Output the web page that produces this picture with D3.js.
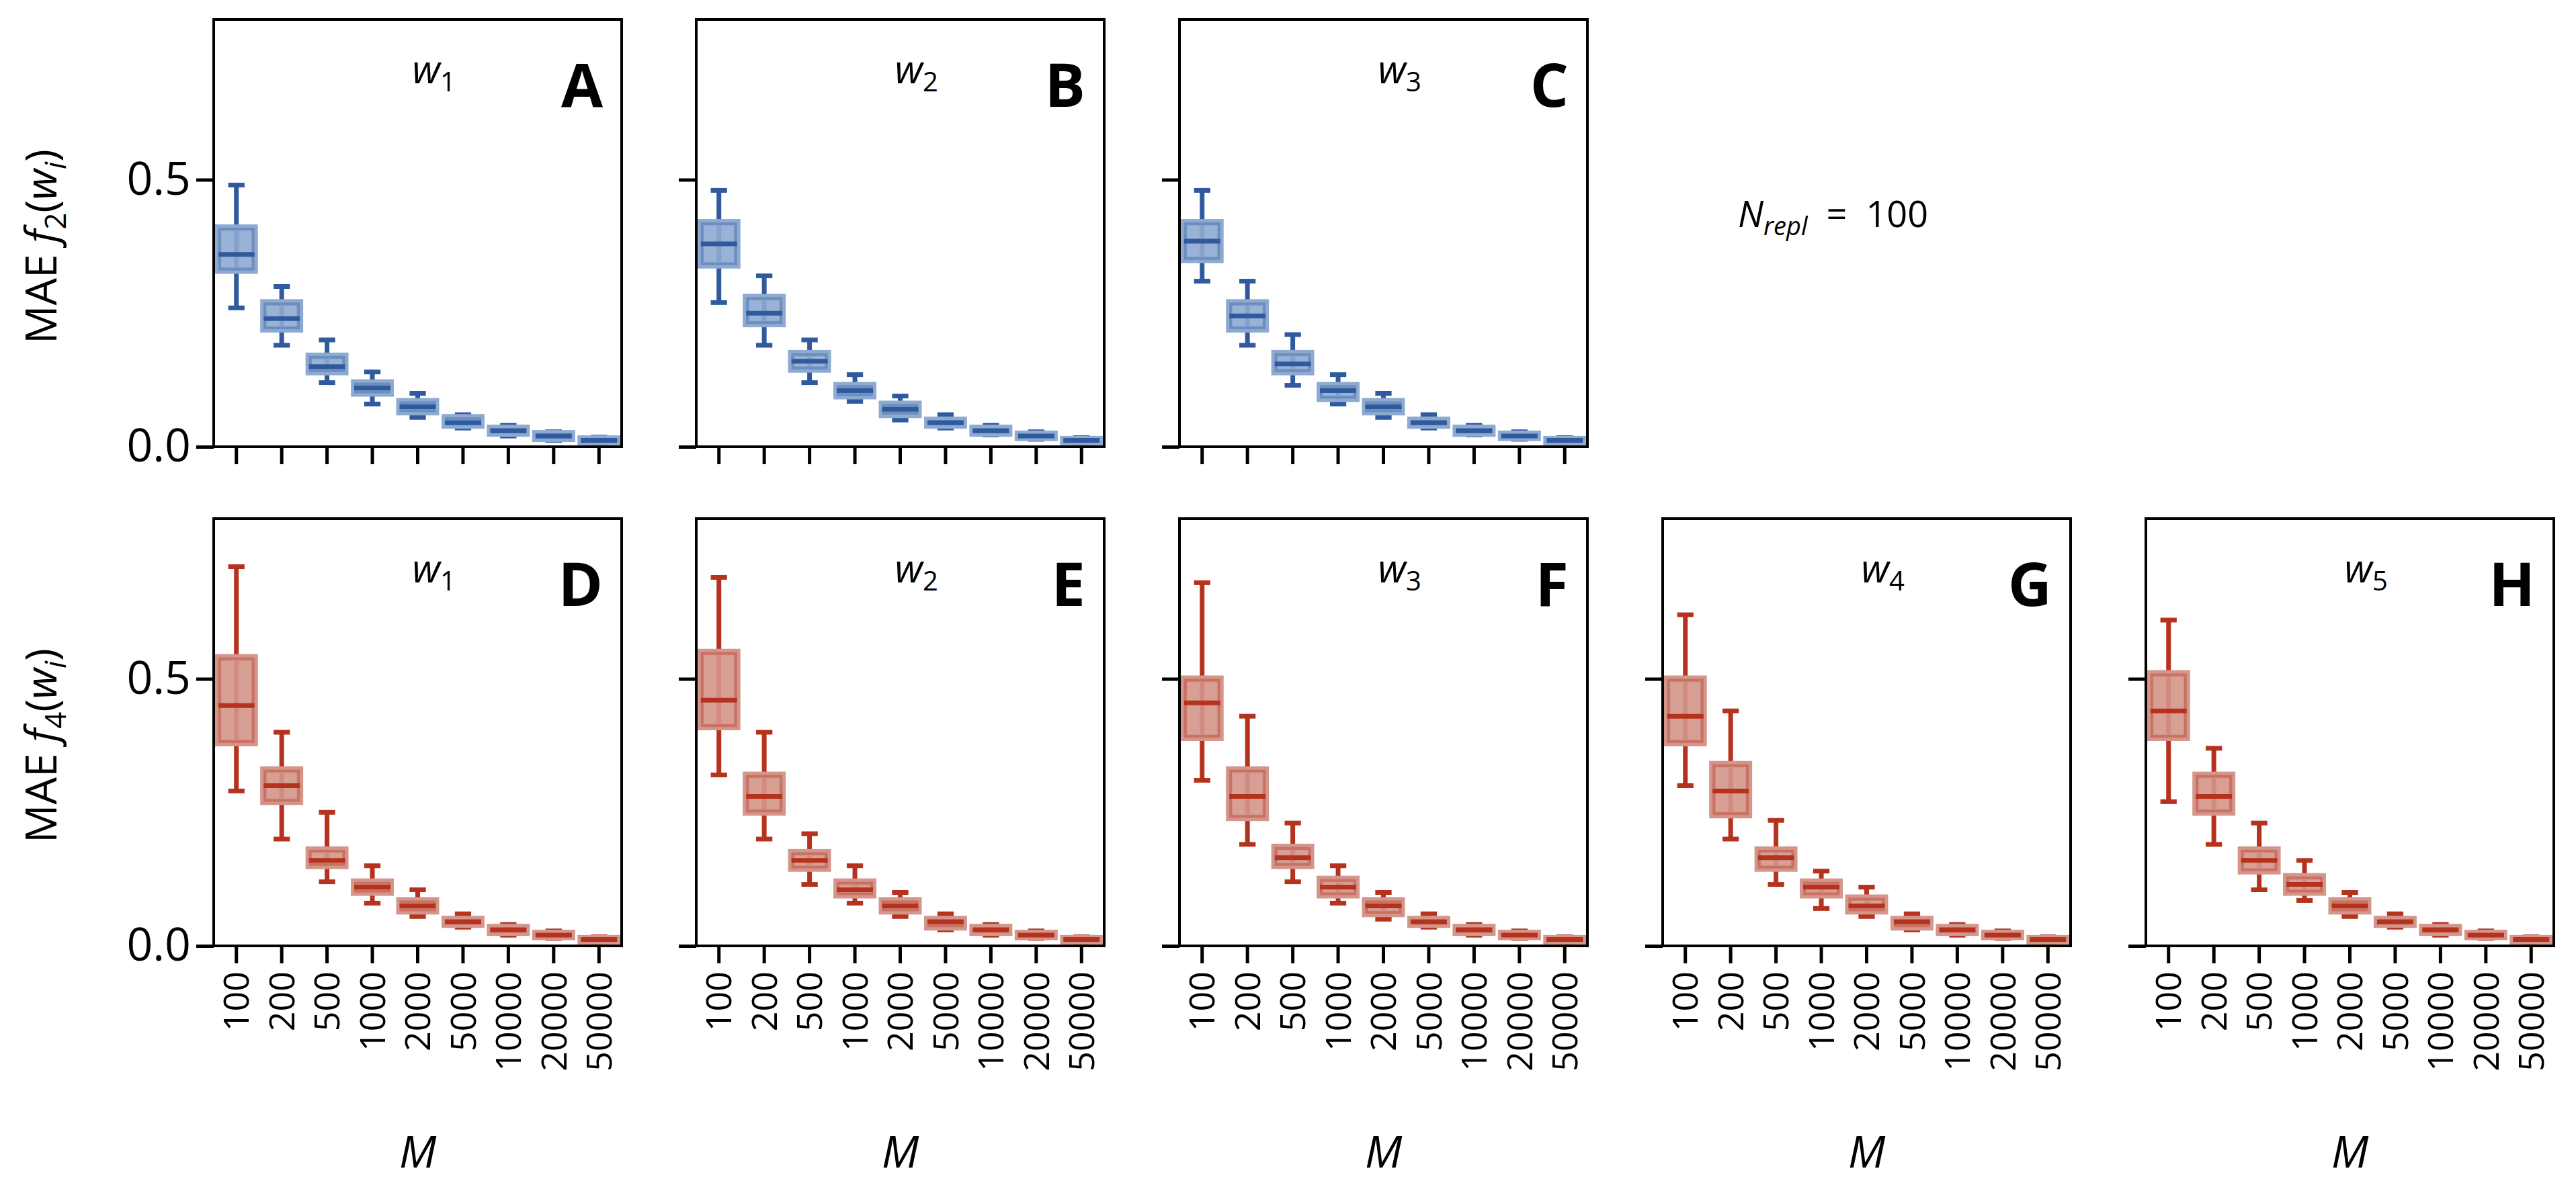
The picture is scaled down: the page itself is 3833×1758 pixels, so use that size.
<!DOCTYPE html>
<html><head><meta charset="utf-8">
<script src="https://cdn.jsdelivr.net/npm/d3@7"></script>
<style>body{margin:0;background:#fff}text{font-family:"Open Sans","Noto Sans",sans-serif}</style>
</head><body><svg id="chart" width="3833" height="1758"></svg>
<script>
// categories and tick labels
var sizes = ["100", "200", "500", "1000", "2000", "5000", "10000", "20000", "50000"];
var yTicks = [0.0, 0.5];
var letters = ["A", "B", "C", "D", "E", "F", "G", "H"];
var weights = ["1", "2", "3", "1", "2", "3", "4", "5"];
var rows = [0, 0, 0, 1, 1, 1, 1, 1];
var cols = [0, 1, 2, 0, 1, 2, 3, 4];

// [median, q1, q3, whisker low, whisker high] per M for each panel
var boxA = [[.36,.33,.41,.26,.49],[.24,.22,.27,.19,.30],[.15,.14,.17,.12,.20],[.11,.10,.12,.08,.14],[.075,.065,.085,.055,.10],[.045,.04,.055,.035,.06],[.03,.025,.035,.02,.04],[.02,.015,.025,.012,.028],[.012,.009,.015,.007,.018]];
var boxB = [[.38,.34,.42,.27,.48],[.25,.23,.28,.19,.32],[.16,.145,.175,.12,.20],[.105,.095,.115,.085,.135],[.07,.06,.08,.05,.095],[.045,.04,.05,.035,.06],[.03,.025,.035,.022,.04],[.02,.017,.024,.014,.028],[.012,.009,.014,.007,.017]];
var boxC = [[.385,.35,.42,.31,.48],[.245,.22,.27,.19,.31],[.155,.14,.175,.115,.21],[.105,.09,.115,.08,.135],[.075,.065,.085,.055,.10],[.045,.04,.05,.035,.06],[.03,.025,.035,.022,.04],[.02,.017,.024,.014,.028],[.012,.009,.014,.007,.017]];
var boxD = [[.45,.38,.54,.29,.71],[.30,.27,.33,.20,.40],[.16,.15,.18,.12,.25],[.11,.10,.12,.08,.15],[.075,.065,.085,.055,.105],[.045,.04,.05,.035,.06],[.03,.025,.035,.02,.04],[.02,.017,.024,.014,.028],[.012,.009,.014,.007,.017]];
var boxE = [[.46,.41,.55,.32,.69],[.28,.25,.32,.20,.40],[.16,.145,.175,.115,.21],[.105,.095,.12,.08,.15],[.075,.065,.085,.055,.10],[.045,.035,.05,.03,.06],[.03,.025,.035,.02,.04],[.02,.017,.024,.014,.028],[.012,.009,.014,.007,.017]];
var boxF = [[.455,.39,.50,.31,.68],[.28,.24,.33,.19,.43],[.165,.15,.185,.12,.23],[.11,.095,.125,.08,.15],[.075,.06,.085,.05,.10],[.045,.04,.05,.035,.06],[.03,.025,.035,.02,.04],[.02,.017,.024,.014,.028],[.012,.009,.014,.007,.017]];
var boxG = [[.43,.38,.50,.30,.62],[.29,.245,.34,.20,.44],[.165,.145,.18,.115,.235],[.11,.095,.12,.07,.14],[.075,.065,.09,.055,.11],[.045,.035,.05,.03,.06],[.03,.025,.035,.02,.04],[.02,.017,.024,.014,.028],[.012,.009,.014,.007,.017]];
var boxH = [[.44,.39,.51,.27,.61],[.28,.25,.32,.19,.37],[.16,.14,.18,.105,.23],[.115,.10,.13,.085,.16],[.075,.065,.085,.055,.10],[.045,.04,.05,.035,.06],[.03,.025,.035,.02,.04],[.02,.017,.024,.014,.028],[.012,.009,.014,.007,.017]];
var panels = [boxA, boxB, boxC, boxD, boxE, boxF, boxG, boxH];

var colX = [318, 1036, 1755, 2474, 3193],
    rowY = [29, 772],
    pw = 607, ph = 636;
var dark = ["#2f5b9e", "#b5321e"], light = ["#8eaad0", "#d4958a"];

var svg = d3.select("#chart");
var x = d3.scaleBand().domain(sizes).range([0, pw]).paddingInner(0.2).paddingOuter(0.1);
var y = d3.scaleLinear().domain([0, 0.8]).range([ph, 0]);

panels.forEach(function(data, p) {
  var r = rows[p], c = cols[p];
  var g = svg.append("g").attr("transform", "translate(" + colX[c] + "," + rowY[r] + ")");
  var bw = x.bandwidth(), cap = bw * 0.45;

  var xa = g.append("g").attr("transform", "translate(0," + ph + ")")
    .call(d3.axisBottom(x).tickSize(26).tickSizeOuter(0).tickFormat(r === 1 ? null : ""));
  xa.selectAll("line").attr("stroke-width", 5);
  xa.select(".domain").remove();
  if (r === 1) {
    xa.selectAll("text").attr("font-size", 52).attr("transform", "rotate(-90)")
      .attr("text-anchor", "end").attr("x", -38).attr("y", 0).attr("dy", "0.36em");
    g.append("text").attr("x", pw / 2).attr("y", ph + 330).attr("text-anchor", "middle")
      .attr("font-size", 66).attr("font-style", "italic").text("M");
  }
  var ya = g.append("g").call(d3.axisLeft(y).tickValues(yTicks).tickSize(26).tickSizeOuter(0)
    .tickFormat(c === 0 ? d3.format(".1f") : ""));
  ya.selectAll("line").attr("stroke-width", 5);
  ya.selectAll("text").attr("font-size", 68).attr("x", -34);
  ya.select(".domain").remove();

  var b = g.selectAll(".box").data(data).enter().append("g")
    .attr("transform", function(d, i) { return "translate(" + (x(sizes[i]) + bw / 2) + ",0)"; });
  b.append("line").attr("y1", function(d) { return y(d[3]); }).attr("y2", function(d) { return y(d[4]); })
    .attr("stroke", dark[r]).attr("stroke-width", 7);
  [3, 4].forEach(function(k) {
    b.append("line").attr("x1", -cap / 2).attr("x2", cap / 2)
      .attr("y1", function(d) { return y(d[k]); }).attr("y2", function(d) { return y(d[k]); })
      .attr("stroke", dark[r]).attr("stroke-width", 7);
  });
  b.append("rect").attr("x", -bw / 2).attr("width", bw)
    .attr("y", function(d) { return y(d[2]); })
    .attr("height", function(d) { return Math.max(y(d[1]) - y(d[2]), 4); })
    .attr("fill", light[r]).attr("fill-opacity", 0.9)
    .attr("stroke", light[r]).attr("stroke-width", 10);
  b.append("rect").attr("x", -bw / 2 + 2).attr("width", bw - 4)
    .attr("y", function(d) { return y(d[2]) + 2; })
    .attr("height", function(d) { return Math.max(y(d[1]) - y(d[2]) - 4, 1); })
    .attr("fill", "none").attr("stroke", dark[r]).attr("stroke-opacity", 0.35).attr("stroke-width", 4);
  b.append("line").attr("x1", -bw / 2).attr("x2", bw / 2)
    .attr("y1", function(d) { return y(d[0]); }).attr("y2", function(d) { return y(d[0]); })
    .attr("stroke", dark[r]).attr("stroke-width", 7);

  g.append("rect").attr("width", pw).attr("height", ph).attr("fill", "none")
    .attr("stroke", "#000").attr("stroke-width", 4);
  var wl = g.append("text").attr("x", pw * 0.54).attr("y", 95).attr("text-anchor", "middle")
    .attr("font-size", 58);
  wl.append("tspan").attr("font-style", "italic").text("w");
  wl.append("tspan").attr("font-size", 40).attr("dy", 12).text(weights[p]);
  g.append("text").attr("x", pw - 28).attr("y", 130).attr("text-anchor", "end")
    .attr("font-size", 90).attr("font-weight", "bold").text(letters[p]);
});

// y titles
[["2", 0], ["4", 1]].forEach(function(t) {
  var tt = svg.append("text").attr("transform", "translate(84," + (rowY[t[1]] + ph / 2 + 20) + ") rotate(-90)")
    .attr("text-anchor", "middle").attr("font-size", 64);
  tt.append("tspan").text("MAE ");
  tt.append("tspan").attr("font-style", "italic").text("f");
  tt.append("tspan").attr("font-size", 44).attr("dy", 14).text(t[0]);
  tt.append("tspan").attr("dy", -14).text("(");
  tt.append("tspan").attr("font-style", "italic").text("w");
  tt.append("tspan").attr("font-size", 44).attr("font-style", "italic").attr("dy", 14).text("i");
  tt.append("tspan").attr("dy", -14).text(")");
});

var nt = svg.append("text").attr("x", 2586).attr("y", 338).attr("font-size", 54);
nt.append("tspan").attr("font-style", "italic").text("N");
nt.append("tspan").attr("font-size", 38).attr("font-style", "italic").attr("dy", 12).text("repl");
nt.append("tspan").attr("dy", -12).attr("xml:space", "preserve").text("  =  100");
</script></body></html>
